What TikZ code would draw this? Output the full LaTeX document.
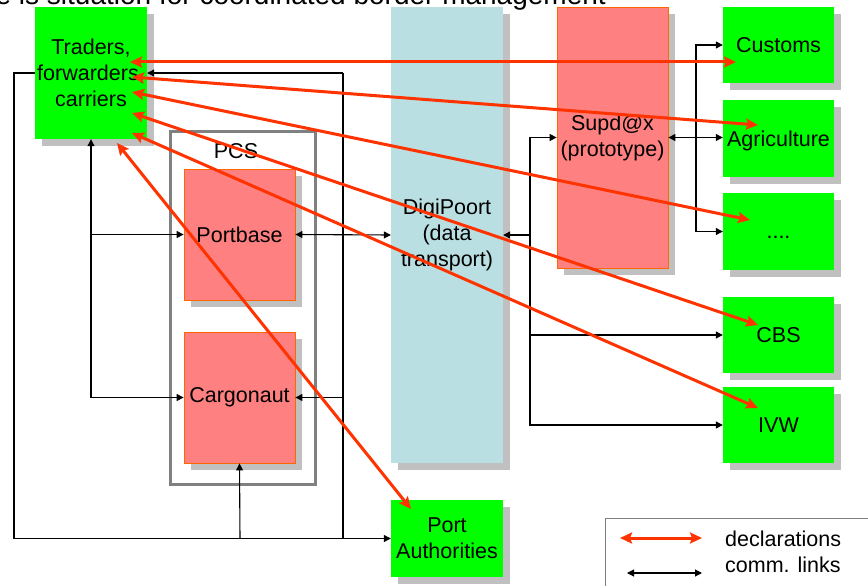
\documentclass[tikz,border=0pt]{standalone}
\usepackage{fontspec}
\setmainfont{Liberation Sans}
\usetikzlibrary{arrows.meta,shadows}
\definecolor{boxgreen}{HTML}{00FF00}
\definecolor{boxpink}{HTML}{FF8080}
\definecolor{pinkedge}{HTML}{FF6600}
\definecolor{digiblue}{HTML}{BADFE2}
\definecolor{shadowgray}{HTML}{C0C0C0}
\definecolor{pcsgray}{HTML}{808080}
\definecolor{declred}{HTML}{FF3300}
\begin{document}
\begin{tikzpicture}[x=1pt,y=-1pt,
 lab/.style={font=\fontsize{21.5}{26}\selectfont},
 shd/.style={drop shadow={shadow xshift=7pt,shadow yshift=-7pt,fill=shadowgray,opacity=1,draw=none}},
 gbox/.style={shd, fill=boxgreen, inner sep=0pt, align=center, lab},
 pbox/.style={shd, fill=boxpink, draw=pinkedge, line width=0.8pt, inner sep=0pt, align=center, lab},
 bbox/.style={shd, fill=digiblue, inner sep=0pt, align=center, lab},
 link/.style={draw=black, line width=1.1pt},
 lnk/.style={link,-{Triangle[length=7pt,width=7pt]}},
 dlnk/.style={link,{Triangle[length=7pt,width=7pt]}-{Triangle[length=7pt,width=7pt]}},
 decl/.style={draw=declred, line width=3pt, {Stealth[length=12pt,width=11pt,inset=2pt]}-{Stealth[length=12pt,width=11pt,inset=2pt]}}
]
\useasboundingbox (0,0) rectangle (868,586);
\clip (0,0) rectangle (868,586);

% title (cut off at the top, as in the reference)
\node[anchor=base east, inner sep=0pt, font=\fontsize{28}{32}\selectfont] (title) at (606,5) {e is situation for coordinated border management};

% PCS frame
\node[draw=pcsgray, line width=3pt, minimum width=145pt, minimum height=353pt, inner sep=0pt] (pcs) at (242.5,307.5) {};
\node[lab, inner sep=0pt] (pcslabel) at (236,151) {PCS};

% boxes
\node[gbox, minimum width=112pt, minimum height=132pt] (traders) at (91,73) {Traders,\\forwarders,\\carriers};
\node[pbox, minimum width=111pt, minimum height=131pt] (portbase) at (239.5,234.5) {Portbase};
\node[pbox, minimum width=111pt, minimum height=131pt] (cargo) at (239.5,397.5) {Cargonaut};
\node[bbox, minimum width=112pt, minimum height=456pt] (digi) at (447,235) {DigiPoort\\(data\\transport)};
\node[pbox, minimum width=111pt, minimum height=261pt] (supdx) at (612.5,137.5) {Supd@x\\(prototype)};
\node[gbox, minimum width=111pt, minimum height=76pt] (customs) at (778.5,45) {Customs};
\node[gbox, minimum width=111pt, minimum height=77pt, text depth=0pt] (agri) at (778.5,138.5) {Agriculture};
\node[gbox, minimum width=111pt, minimum height=77pt] (dots) at (778.5,231.5) {\vphantom{A}....};
\node[gbox, minimum width=111pt, minimum height=76pt] (cbs) at (778.5,335) {CBS};
\node[gbox, minimum width=111pt, minimum height=76pt] (ivw) at (778.5,425) {IVW};
\node[gbox, minimum width=112pt, minimum height=77pt] (port) at (447,538.5) {Port\\Authorities};

% junctions
\coordinate (jTR) at (343,73);
\coordinate (jBR) at (343,538.5);
\coordinate (jTL) at (14,73);
\coordinate (jBL) at (14,538.5);
\coordinate (jL) at (91,397.5);
\coordinate (jB) at (240,538.5);
\coordinate (jR) at (530,235);
\coordinate (jRR) at (696,138.5);

% communication links
\draw[lnk] (traders.west) -- (jTL) -- (jBL) -- (port.west);
\draw[link] (jTR) -- (jBR);
\draw[lnk] (jTR) -- (traders.east);
\draw[lnk] (jTR |- cargo.east) -- (cargo.east);
\draw[lnk] (jL) -- (traders.south);
\draw[lnk] (jL |- portbase.west) -- (portbase.west);
\draw[lnk] (jL) -- (cargo.west);
\draw[lnk] (jB) -- (cargo.south);
\draw[dlnk] (portbase.east) -- (digi.west);
\draw[lnk] (jR) |- (supdx.west);
\draw[lnk] (jR) -- (digi.east);
\draw[lnk] (jR) |- (cbs.west);
\draw[lnk] (jR) |- (ivw.west);
\draw[dlnk] (supdx.east) -- (supdx.east -| agri.west);
\draw[lnk] (jRR) |- (customs.west);
\draw[lnk] (jRR) |- (dots.west);

% declarations
\draw[decl] ([shift={(39,-11)}]traders.center) -- ([shift={(-42.5,17)}]customs.center);
\draw[decl] ([shift={(41,4)}]traders.center) -- ([shift={(-20.5,-13.5)}]agri.center);
\draw[decl] ([shift={(41,19)}]traders.center) -- ([shift={(-28.5,-11.5)}]dots.center);
\draw[decl] ([shift={(41,40)}]traders.center) -- ([shift={(-20.5,-10)}]cbs.center);
\draw[decl] ([shift={(41,60)}]traders.center) -- ([shift={(-20.5,-17)}]ivw.center);
\draw[decl] ([shift={(26,70)}]traders.center) -- ([shift={(-36,-29.5)}]port.center);

% legend
\node[draw=pcsgray, line width=1pt, minimum width=280pt, minimum height=90pt, anchor=north west, inner sep=0pt] (legend) at (605,518) {};
\coordinate (ld1) at (620,538);
\coordinate (ld2) at (702,538);
\coordinate (lc1) at (627,573);
\coordinate (lc2) at (702,573);
\draw[decl] (ld1) -- (ld2);
\draw[dlnk] (lc1) -- (lc2);
\node[lab, anchor=west, inner sep=0pt] (lt1) at (725,539) {declarations};
\node[lab, anchor=west, inner sep=0pt] (lt2) at (725,565) {comm. links};
\end{tikzpicture}
\end{document}
